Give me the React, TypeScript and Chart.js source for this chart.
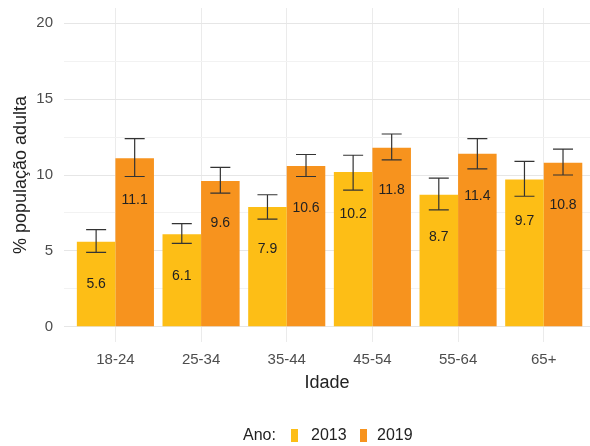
import React, { useEffect, useRef } from "react";
import { Chart, registerables } from "chart.js";

Chart.register(...registerables);

const categories = ["18-24", "25-34", "35-44", "45-54", "55-64", "65+"];
const seriesNames = ["2013", "2019"];
const values2013 = [5.6, 6.1, 7.9, 10.2, 8.7, 9.7];
const values2019 = [11.1, 9.6, 10.6, 11.8, 11.4, 10.8];
const lower2013 = [4.9, 5.5, 7.1, 9.0, 7.7, 8.6];
const upper2013 = [6.4, 6.8, 8.7, 11.3, 9.8, 10.9];
const lower2019 = [9.9, 8.8, 9.9, 11.0, 10.4, 10.0];
const upper2019 = [12.4, 10.5, 11.35, 12.7, 12.4, 11.7];
const yTicks = [0, 2.5, 5, 7.5, 10, 12.5, 15, 17.5, 20];

const COLORS = ["#FDBE16", "#F7931E"];
const FONT = "'Liberation Sans', Arial, sans-serif";

const lows = [lower2013, lower2019];
const highs = [upper2013, upper2019];

const overlayPlugin = {
  id: "overlay",
  afterDatasetsDraw(chart: any) {
    const ctx = chart.ctx;
    const y = chart.scales.y;
    ctx.save();
    chart.data.datasets.forEach((ds: any, di: number) => {
      const meta = chart.getDatasetMeta(di);
      meta.data.forEach((el: any, j: number) => {
        const cx = el.x;
        const v = ds.data[j].y;
        // value label
        ctx.fillStyle = "#222222";
        ctx.font = `14px ${FONT}`;
        ctx.textAlign = "center";
        ctx.textBaseline = "middle";
        ctx.fillText(v.toFixed(1), cx, y.getPixelForValue(v) + 42);
        // error bar
        const yl = y.getPixelForValue(lows[di][j]);
        const yh = y.getPixelForValue(highs[di][j]);
        const half = 10;
        ctx.strokeStyle = "#333333";
        ctx.lineWidth = 1.2;
        ctx.beginPath();
        ctx.moveTo(cx, yl);
        ctx.lineTo(cx, yh);
        ctx.moveTo(cx - half, yl);
        ctx.lineTo(cx + half, yl);
        ctx.moveTo(cx - half, yh);
        ctx.lineTo(cx + half, yh);
        ctx.stroke();
      });
    });
    ctx.restore();
  },
  afterDraw(chart: any) {
    const ctx = chart.ctx;
    const area = chart.chartArea;
    ctx.save();
    // axis titles
    ctx.fillStyle = "#222222";
    ctx.font = `18px ${FONT}`;
    ctx.textAlign = "center";
    ctx.textBaseline = "middle";
    ctx.fillText("Idade", (area.left + area.right) / 2, 383);
    ctx.save();
    ctx.translate(21, (area.top + area.bottom) / 2);
    ctx.rotate(-Math.PI / 2);
    ctx.fillText("% população adulta", 0, 0);
    ctx.restore();
    // legend
    ctx.font = `16px ${FONT}`;
    ctx.textAlign = "left";
    ctx.fillStyle = "#222222";
    const ly = 436;
    ctx.fillText("Ano:", 243, ly);
    const items = [
      { sx: 291, tx: 311 },
      { sx: 360, tx: 377 },
    ];
    items.forEach((it, i) => {
      ctx.fillStyle = COLORS[i];
      ctx.fillRect(it.sx, ly - 7, 7, 13);
      ctx.fillStyle = "#222222";
      ctx.fillText(seriesNames[i], it.tx, ly);
    });
    ctx.restore();
  },
};

export default function App() {
  const ref = useRef<HTMLCanvasElement>(null);
  useEffect(() => {
    if (!ref.current) return;
    const chart = new Chart(ref.current, {
      type: "bar",
      data: {
        datasets: [values2013, values2019].map((vals, i) => ({
          label: seriesNames[i],
          data: vals.map((v, j) => ({ x: j, y: v })),
          backgroundColor: COLORS[i],
          borderWidth: 0,
          categoryPercentage: 0.9,
          barPercentage: 1,
        })),
      },
      options: {
        animation: false,
        responsive: false,
        layout: { padding: { top: 8, left: 0, right: 0, bottom: 0 } },
        plugins: {
          legend: { display: false },
          tooltip: { enabled: false },
        },
        scales: {
          x: {
            type: "linear",
            min: -0.6,
            max: 5.54,
            offset: false,
            afterBuildTicks: (s: any) => {
              s.ticks = categories.map((_, i) => ({ value: i }));
            },
            afterFit: (s: any) => {
              s.height = 104;
              s.paddingLeft = 0;
              s.paddingRight = 0;
            },
            grid: { color: "#EBEBEB", lineWidth: 1, drawTicks: false, offset: false },
            border: { display: false },
            ticks: {
              callback: (v: any) => categories[v] ?? "",
              color: "#4D4D4D",
              font: { family: FONT, size: 15 },
              padding: 9,
              maxRotation: 0,
              autoSkip: false,
            },
          },
          y: {
            type: "linear",
            min: -1,
            max: 21,
            afterBuildTicks: (s: any) => {
              s.ticks = yTicks.map((v) => ({ value: v }));
            },
            afterFit: (s: any) => {
              s.width = 64;
              s.paddingTop = 0;
              s.paddingBottom = 0;
            },
            grid: {
              color: (c: any) =>
                c.tick && c.tick.value % 5 === 0 ? "#E6E6E6" : "#F2F2F2",
              lineWidth: 1,
              drawTicks: false,
            },
            border: { display: false },
            ticks: {
              callback: (v: any) => (v % 5 === 0 ? String(v) : ""),
              color: "#4D4D4D",
              font: { family: FONT, size: 15 },
              padding: 11,
              autoSkip: false,
            },
          },
        },
      } as any,
      plugins: [overlayPlugin],
    });
    return () => chart.destroy();
  }, []);
  return (
    <div style={{ position: "absolute", left: 0, top: 0, width: 590, height: 446, background: "#fff" }}>
      <canvas ref={ref} width={590} height={446} />
    </div>
  );
}
